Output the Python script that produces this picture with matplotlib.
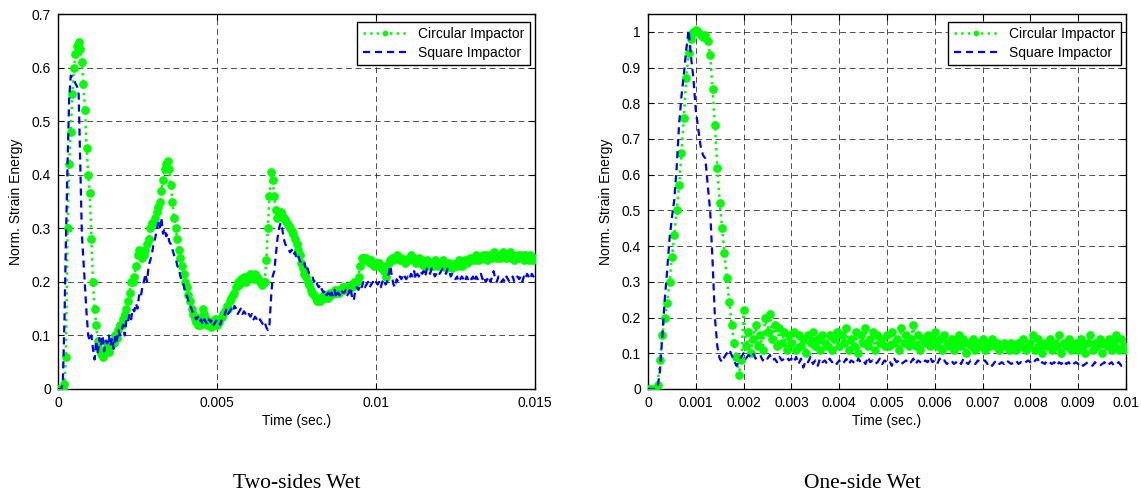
import matplotlib
matplotlib.use("Agg")
import matplotlib.pyplot as plt
import numpy as np

plt.rcParams['font.family'] = ['Liberation Sans', 'DejaVu Sans']

# ---- Two-sides wet: samples every 0.05 ms from 0 to 0.015 s ----
left_square = [
    0, 0, 0, 0.01, 0.12, 0.28, 0.42, 0.54, 0.585, 0.583, 0.578, 0.57, 0.565, 0.55, 0.42, 0.29, 0.24, 0.19, 0.14, 0.10,
    0.09, 0.1, 0.075, 0.055, 0.09, 0.065, 0.095, 0.08, 0.1, 0.07, 0.09, 0.085, 0.1, 0.08, 0.095, 0.075, 0.1, 0.09, 0.11, 0.1,
    0.11, 0.12, 0.1, 0.13, 0.125, 0.14, 0.13, 0.15, 0.145, 0.16, 0.15, 0.175, 0.17, 0.19, 0.2, 0.215, 0.2, 0.23, 0.24, 0.25,
    0.27, 0.28, 0.295, 0.31, 0.3, 0.32, 0.29, 0.3, 0.285, 0.29, 0.275, 0.27, 0.26, 0.25, 0.245, 0.23, 0.225, 0.21, 0.2, 0.195,
    0.18, 0.175, 0.165, 0.155, 0.15, 0.14, 0.135, 0.13, 0.135, 0.125, 0.13, 0.12, 0.13, 0.125, 0.12, 0.13, 0.125, 0.13, 0.12, 0.125,
    0.13, 0.125, 0.12, 0.13, 0.135, 0.14, 0.15, 0.14, 0.145, 0.15, 0.145, 0.155, 0.15, 0.14, 0.145, 0.15, 0.14, 0.145, 0.14, 0.135,
    0.14, 0.135, 0.14, 0.13, 0.135, 0.13, 0.125, 0.13, 0.125, 0.12, 0.125, 0.115, 0.11, 0.12, 0.17, 0.21, 0.22, 0.25, 0.28, 0.3,
    0.31, 0.3, 0.28, 0.27, 0.265, 0.26, 0.255, 0.26, 0.25, 0.255, 0.245, 0.25, 0.24, 0.235, 0.23, 0.235, 0.22, 0.225, 0.215, 0.21,
    0.21, 0.2, 0.205, 0.195, 0.19, 0.195, 0.185, 0.18, 0.185, 0.175, 0.18, 0.17, 0.18, 0.175, 0.185, 0.17, 0.18, 0.175, 0.185, 0.18,
    0.18, 0.185, 0.175, 0.18, 0.19, 0.17, 0.165, 0.185, 0.19, 0.185, 0.195, 0.19, 0.2, 0.19, 0.195, 0.2, 0.19, 0.195, 0.2, 0.195,
    0.2, 0.195, 0.2, 0.19, 0.2, 0.205, 0.195, 0.2, 0.215, 0.23, 0.21, 0.195, 0.19, 0.205, 0.2, 0.21, 0.205, 0.215, 0.21, 0.205,
    0.21, 0.205, 0.215, 0.21, 0.22, 0.205, 0.215, 0.21, 0.22, 0.215, 0.22, 0.21, 0.225, 0.22, 0.215, 0.225, 0.22, 0.21, 0.215, 0.22,
    0.215, 0.22, 0.225, 0.22, 0.215, 0.225, 0.22, 0.21, 0.215, 0.21, 0.205, 0.21, 0.2, 0.205, 0.21, 0.205, 0.2, 0.21, 0.205, 0.21,
    0.205, 0.21, 0.2, 0.21, 0.205, 0.21, 0.215, 0.205, 0.21, 0.2, 0.205, 0.21, 0.2, 0.21, 0.22, 0.205, 0.2, 0.21, 0.205, 0.2,
    0.205, 0.2, 0.21, 0.205, 0.2, 0.205, 0.21, 0.2, 0.205, 0.21, 0.205, 0.21, 0.2, 0.21, 0.205, 0.215, 0.21, 0.205, 0.215, 0.21,
    0.215,
]

left_circular = [
    0, 0, 0, 0, 0.01, 0.06, 0.3, 0.42, 0.48, 0.55, 0.6, 0.625, 0.64, 0.648, 0.635, 0.61, 0.57, 0.52, 0.45, 0.4,
    0.365, 0.28, 0.2, 0.15, 0.12, 0.09, 0.075, 0.065, 0.06, 0.07, 0.075, 0.085, 0.07, 0.08, 0.09, 0.085, 0.1, 0.095, 0.11, 0.12,
    0.12, 0.13, 0.14, 0.15, 0.165, 0.18, 0.2, 0.2, 0.21, 0.23, 0.25, 0.26, 0.255, 0.245, 0.25, 0.26, 0.27, 0.28, 0.3, 0.31,
    0.31, 0.32, 0.33, 0.34, 0.35, 0.37, 0.39, 0.41, 0.42, 0.425, 0.41, 0.38, 0.35, 0.32, 0.3, 0.28, 0.26, 0.245, 0.23, 0.215,
    0.2, 0.19, 0.175, 0.165, 0.15, 0.14, 0.13, 0.125, 0.12, 0.12, 0.135, 0.15, 0.14, 0.13, 0.12, 0.125, 0.115, 0.125, 0.12, 0.13,
    0.12, 0.125, 0.13, 0.135, 0.14, 0.145, 0.155, 0.15, 0.165, 0.17, 0.175, 0.18, 0.19, 0.2, 0.195, 0.205, 0.2, 0.21, 0.2, 0.205,
    0.21, 0.215, 0.21, 0.205, 0.215, 0.21, 0.205, 0.2, 0.195, 0.2, 0.2, 0.24, 0.3, 0.36, 0.405, 0.39, 0.36, 0.335, 0.32, 0.325,
    0.33, 0.325, 0.32, 0.315, 0.31, 0.305, 0.3, 0.295, 0.29, 0.28, 0.27, 0.26, 0.25, 0.235, 0.225, 0.215, 0.21, 0.2, 0.195, 0.185,
    0.18, 0.175, 0.17, 0.165, 0.17, 0.165, 0.17, 0.175, 0.17, 0.175, 0.17, 0.18, 0.175, 0.18, 0.185, 0.18, 0.185, 0.18, 0.185, 0.19,
    0.185, 0.19, 0.185, 0.19, 0.195, 0.19, 0.2, 0.195, 0.2, 0.21, 0.23, 0.245, 0.245, 0.24, 0.245, 0.24, 0.235, 0.24, 0.235, 0.23,
    0.235, 0.23, 0.235, 0.225, 0.23, 0.22, 0.21, 0.22, 0.235, 0.24, 0.245, 0.24, 0.245, 0.25, 0.245, 0.24, 0.245, 0.24, 0.235, 0.24,
    0.24, 0.245, 0.25, 0.245, 0.24, 0.235, 0.24, 0.245, 0.235, 0.24, 0.23, 0.235, 0.24, 0.235, 0.23, 0.235, 0.23, 0.24, 0.235, 0.23,
    0.235, 0.23, 0.24, 0.235, 0.225, 0.23, 0.235, 0.23, 0.225, 0.23, 0.235, 0.23, 0.24, 0.235, 0.23, 0.235, 0.24, 0.235, 0.24, 0.245,
    0.24, 0.245, 0.24, 0.25, 0.245, 0.24, 0.245, 0.25, 0.245, 0.25, 0.24, 0.245, 0.25, 0.245, 0.255, 0.25, 0.245, 0.25, 0.245, 0.25,
    0.255, 0.25, 0.245, 0.25, 0.255, 0.245, 0.25, 0.24, 0.245, 0.25, 0.245, 0.25, 0.245, 0.24, 0.25, 0.245, 0.24, 0.25, 0.245, 0.24,
    0.245,
]

# ---- One-side wet: samples every 0.05 ms from 0 to 0.01 s ----
right_square = [
    0, 0, 0, 0, 0.005, 0.05, 0.15, 0.25, 0.33, 0.42, 0.48, 0.53, 0.62, 0.74, 0.82, 0.88, 0.95, 1.005, 0.93, 0.87,
    0.78, 0.73, 0.68, 0.655, 0.645, 0.57, 0.5, 0.36, 0.2, 0.12, 0.085, 0.075, 0.09, 0.1, 0.11, 0.095, 0.08, 0.065, 0.075, 0.09,
    0.1, 0.085, 0.095, 0.09, 0.1, 0.085, 0.09, 0.095, 0.08, 0.09, 0.085, 0.095, 0.08, 0.085, 0.075, 0.09, 0.08, 0.085, 0.09, 0.08,
    0.085, 0.075, 0.09, 0.07, 0.085, 0.06, 0.08, 0.075, 0.09, 0.07, 0.08, 0.065, 0.085, 0.075, 0.08, 0.07, 0.085, 0.075, 0.08, 0.07,
    0.08, 0.07, 0.075, 0.085, 0.07, 0.08, 0.075, 0.07, 0.085, 0.075, 0.08, 0.07, 0.09, 0.075, 0.08, 0.07, 0.075, 0.085, 0.07, 0.08,
    0.075, 0.08, 0.065, 0.085, 0.075, 0.08, 0.07, 0.075, 0.08, 0.07, 0.075, 0.085, 0.07, 0.08, 0.075, 0.07, 0.08, 0.075, 0.09, 0.075,
    0.08, 0.07, 0.085, 0.075, 0.08, 0.07, 0.075, 0.08, 0.07, 0.075, 0.08, 0.07, 0.085, 0.075, 0.07, 0.08, 0.075, 0.07, 0.08, 0.075,
    0.075, 0.08, 0.07, 0.075, 0.065, 0.075, 0.08, 0.07, 0.075, 0.07, 0.08, 0.075, 0.07, 0.075, 0.08, 0.07, 0.075, 0.07, 0.075, 0.08,
    0.075, 0.07, 0.08, 0.085, 0.07, 0.075, 0.07, 0.08, 0.075, 0.07, 0.075, 0.065, 0.075, 0.07, 0.08, 0.07, 0.075, 0.065, 0.07, 0.075,
    0.07, 0.075, 0.065, 0.07, 0.075, 0.07, 0.065, 0.075, 0.07, 0.065, 0.07, 0.075, 0.065, 0.07, 0.075, 0.065, 0.07, 0.075, 0.065, 0.07,
    0.075,
]

right_circular = [
    0, 0, 0, 0, 0.01, 0.08, 0.15, 0.2, 0.24, 0.3, 0.37, 0.43, 0.5, 0.57, 0.66, 0.76, 0.87, 0.94, 0.98, 1.0,
    1.005, 1.0, 0.99, 0.985, 0.99, 0.975, 0.935, 0.84, 0.74, 0.62, 0.52, 0.45, 0.38, 0.31, 0.245, 0.18, 0.13, 0.09, 0.04, 0.08,
    0.22, 0.12, 0.16, 0.1, 0.14, 0.18, 0.12, 0.15, 0.11, 0.2, 0.16, 0.21, 0.14, 0.18, 0.12, 0.17, 0.13, 0.16, 0.11, 0.15,
    0.13, 0.16, 0.11, 0.15, 0.12, 0.14, 0.1, 0.15, 0.13, 0.16, 0.12, 0.14, 0.11, 0.15, 0.13, 0.12, 0.15, 0.11, 0.14, 0.16,
    0.12, 0.15, 0.13, 0.17, 0.11, 0.14, 0.12, 0.16, 0.1, 0.15, 0.13, 0.17, 0.12, 0.14, 0.16, 0.11, 0.15, 0.13, 0.14, 0.12,
    0.15, 0.12, 0.16, 0.13, 0.14, 0.11, 0.17, 0.13, 0.15, 0.12, 0.14, 0.18, 0.12, 0.15, 0.11, 0.14, 0.13, 0.15, 0.12, 0.14,
    0.16, 0.12, 0.14, 0.11, 0.15, 0.13, 0.12, 0.14, 0.11, 0.13, 0.15, 0.12, 0.14, 0.1, 0.13, 0.12, 0.14, 0.11, 0.13, 0.12,
    0.14, 0.11, 0.13, 0.12, 0.14, 0.12, 0.13, 0.11, 0.12, 0.13, 0.12, 0.11, 0.13, 0.12, 0.11, 0.13, 0.12, 0.14, 0.11, 0.12,
    0.13, 0.15, 0.11, 0.14, 0.12, 0.1, 0.13, 0.12, 0.14, 0.11, 0.13, 0.12, 0.15, 0.1, 0.13, 0.12, 0.14, 0.11, 0.12, 0.13,
    0.11, 0.14, 0.12, 0.1, 0.13, 0.15, 0.11, 0.13, 0.12, 0.14, 0.1, 0.13, 0.12, 0.14, 0.11, 0.13, 0.15, 0.11, 0.14, 0.12,
    0.11,
]

left_xticks = [0, 0.005, 0.01, 0.015]
left_xlabels = ['0', '0.005', '0.01', '0.015']
left_yticks = [0, 0.1, 0.2, 0.3, 0.4, 0.5, 0.6, 0.7]
left_ylabels = ['0', '0.1', '0.2', '0.3', '0.4', '0.5', '0.6', '0.7']
right_xticks = [0, 0.001, 0.002, 0.003, 0.004, 0.005, 0.006, 0.007, 0.008, 0.009, 0.01]
right_xlabels = ['0', '0.001', '0.002', '0.003', '0.004', '0.005', '0.006', '0.007', '0.008', '0.009', '0.01']
right_yticks = [0, 0.1, 0.2, 0.3, 0.4, 0.5, 0.6, 0.7, 0.8, 0.9, 1.0]
right_ylabels = ['0', '0.1', '0.2', '0.3', '0.4', '0.5', '0.6', '0.7', '0.8', '0.9', '1']

captions = ['Two-sides Wet', 'One-side Wet']
series_names = ['Circular Impactor', 'Square Impactor']


def draw_panel(ax, t_end, circ, square, xt, xl, yt, yl, ytop):
    t_c = np.linspace(0, t_end, len(circ))
    t_s = np.linspace(0, t_end, len(square))
    ax.plot(t_c, circ, color='#00ff00', linestyle=':', linewidth=1.8, marker='.',
            markersize=10.5, label=series_names[0], zorder=3)
    ax.plot(t_s, square, color='#0000ff', linestyle='--', dashes=(3.2, 2.2),
            linewidth=1.6, label=series_names[1], zorder=4)
    ax.set_xlim(0, t_end)
    ax.set_ylim(0, ytop)
    ax.set_xticks(xt)
    ax.set_xticklabels(xl)
    ax.set_yticks(yt)
    ax.set_yticklabels(yl)
    ax.grid(True, color='k', linestyle=(0, (7, 4.5)), linewidth=0.6, alpha=0.8)
    ax.set_axisbelow(True)
    ax.tick_params(direction='in', top=True, right=True, length=4, labelsize=10, pad=5)
    for s in ax.spines.values():
        s.set_linewidth(1.0)
    ax.set_xlabel('Time (sec.)', fontsize=10, labelpad=3)
    ax.set_ylabel('Norm. Strain Energy', fontsize=10, labelpad=6)
    leg = ax.legend(loc='upper right', bbox_to_anchor=(0.99, 0.98), fontsize=10,
                    fancybox=False, framealpha=1, edgecolor='k', borderpad=0.4,
                    handlelength=3.2, labelspacing=0.35, borderaxespad=0,
                    markerscale=0.6)
    leg.get_frame().set_linewidth(1.0)


fig = plt.figure(figsize=(11.41, 5.04), dpi=100)
ax1 = fig.add_axes([58 / 1141, 115 / 504, 477 / 1141, 375 / 504])
ax2 = fig.add_axes([648 / 1141, 115 / 504, 478 / 1141, 375 / 504])

draw_panel(ax1, 0.015, left_circular, left_square, left_xticks, left_xlabels,
           left_yticks, left_ylabels, 0.7)
draw_panel(ax2, 0.01, right_circular, right_square, right_xticks, right_xlabels,
           right_yticks, right_ylabels, 1.05)

fig.text(297 / 1141, 1 - 484 / 504, captions[0], ha='center', va='center',
         fontsize=15.5, family='Liberation Serif')
fig.text(862 / 1141, 1 - 484 / 504, captions[1], ha='center', va='center',
         fontsize=15.5, family='Liberation Serif')

fig.savefig('out.png', dpi=100)
